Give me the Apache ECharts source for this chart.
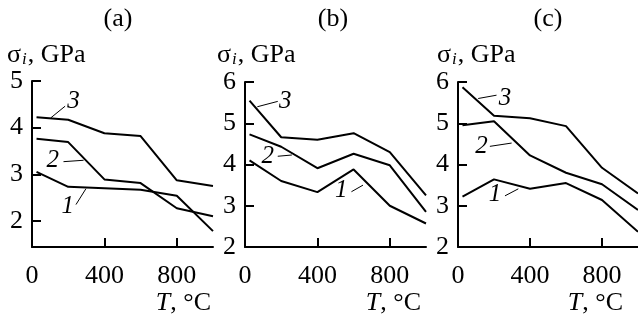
<!DOCTYPE html>
<html>
<head>
<meta charset="utf-8">
<script src="https://cdn.jsdelivr.net/npm/echarts@6/dist/echarts.min.js"></script>
<style>
  html, body { margin: 0; padding: 0; background: #fff; }
  #chart { width: 638px; height: 322px; }
</style>
</head>
<body>
<div id="chart"></div>
<script>
// temperatures, deg C
const temps = [25, 200, 400, 600, 800, 1000];

// stress intensity, GPa
const a1 = [3.05, 2.73, 2.70, 2.67, 2.54, 1.78];
const a2 = [3.76, 3.69, 2.89, 2.81, 2.27, 2.10];
const a3 = [4.22, 4.17, 3.88, 3.82, 2.87, 2.75];

const b1 = [4.10, 3.60, 3.33, 3.88, 3.00, 2.57];
const b2 = [4.73, 4.43, 3.91, 4.26, 3.98, 2.85];
const b3 = [5.55, 4.66, 4.60, 4.76, 4.30, 3.25];

const c1 = [3.22, 3.64, 3.41, 3.55, 3.14, 2.37];
const c2 = [4.95, 5.05, 4.22, 3.80, 3.52, 2.90];
const c3 = [5.87, 5.18, 5.12, 4.93, 3.92, 3.30];

// tick labels
const xTicks = [0, 400, 800];
const yTicksA = [2, 3, 4, 5];
const yTicksBC = [2, 3, 4, 5, 6];

// curve labels: [label point, leader start, leader end] in data units
const notesA = [
  ['3', [229, 4.56], [183, 4.46], [104, 4.21]],
  ['2', [115, 3.29], [174, 3.27], [285, 3.30]],
  ['1', [198, 2.31], [243, 2.35], [298, 2.69]]
];
const notesB = [
  ['3', [222, 5.52], [181, 5.53], [68, 5.40]],
  ['2', [126, 4.19], [181, 4.20], [259, 4.23]],
  ['1', [532, 3.38], [588, 3.34], [652, 3.50]]
];
const notesC = [
  ['3', [261, 5.61], [214, 5.68], [112, 5.60]],
  ['2', [131, 4.43], [177, 4.44], [298, 4.52]],
  ['1', [205, 3.27], [261, 3.24], [335, 3.41]]
];

const FONT = '"Liberation Serif", "Times New Roman", serif';
const FS = 26;

const chart = echarts.init(document.getElementById('chart'), null, { renderer: 'canvas' });

function zip(ys) {
  return temps.map((t, i) => [t, ys[i]]);
}

function xAxis(idx) {
  return {
    type: 'value', gridIndex: idx, min: 0, max: 1000,
    axisLine: { show: true, lineStyle: { color: '#000', width: 2 } },
    axisTick: { show: true, inside: true, length: 9, customValues: xTicks, lineStyle: { color: '#000', width: 2 } },
    axisLabel: { customValues: xTicks, margin: 16, color: '#000', fontFamily: FONT, fontSize: FS },
    splitLine: { show: false }
  };
}

function yAxis(idx, min, max, ticks) {
  return {
    type: 'value', gridIndex: idx, min: min, max: max,
    axisLine: { show: true, lineStyle: { color: '#000', width: 2 } },
    axisTick: { show: true, inside: true, length: 9, customValues: ticks, lineStyle: { color: '#000', width: 2 } },
    axisLabel: { customValues: ticks, margin: 9, color: '#000', fontFamily: FONT, fontSize: FS },
    splitLine: { show: false }
  };
}

function curve(idx, ys) {
  return {
    type: 'line', xAxisIndex: idx, yAxisIndex: idx, data: zip(ys),
    symbol: 'none', silent: true, animation: false,
    lineStyle: { color: '#000', width: 2 }
  };
}

function notes(idx, list) {
  const out = [];
  list.forEach(n => {
    out.push({
      type: 'line', xAxisIndex: idx, yAxisIndex: idx, data: [n[2], n[3]],
      symbol: 'none', silent: true, animation: false,
      lineStyle: { color: '#000', width: 1 }
    });
  });
  out.push({
    type: 'scatter', xAxisIndex: idx, yAxisIndex: idx, symbolSize: 0,
    silent: true, animation: false,
    itemStyle: { opacity: 1, color: '#000' },
    data: list.map(n => ({ value: n[1], name: n[0] })),
    label: {
      show: true, position: 'inside', formatter: '{b}', opacity: 1,
      color: '#000', fontFamily: FONT, fontSize: 25, fontStyle: 'italic'
    }
  });
  return out;
}

function sigmaName(x) {
  return {
    type: 'text', x: x, y: 55,
    style: {
      text: '{s|σ}{i|i}{s|, GPa}',
      verticalAlign: 'middle', align: 'left',
      rich: {
        s: { fontFamily: FONT, fontSize: FS, color: '#000', lineHeight: 28 },
        i: { fontFamily: FONT, fontSize: 17, fontStyle: 'italic', color: '#000', padding: [10, 1, 0, 1] }
      }
    }
  };
}

function tName(xRight) {
  return {
    type: 'text', x: xRight, y: 303,
    style: {
      text: '{t|T}{s|, °C}',
      verticalAlign: 'middle', align: 'right',
      rich: {
        s: { fontFamily: FONT, fontSize: FS, color: '#000' },
        t: { fontFamily: FONT, fontSize: FS, fontStyle: 'italic', color: '#000' }
      }
    }
  };
}

function panelTitle(text, x) {
  return {
    type: 'text', x: x, y: 19,
    style: { text: text, fontFamily: FONT, fontSize: FS, fill: '#000', align: 'center', verticalAlign: 'middle' }
  };
}

chart.setOption({
  backgroundColor: '#fff',
  animation: false,
  grid: [
    { left: 32, top: 81, width: 181, height: 166 },
    { left: 245, top: 82, width: 181, height: 165 },
    { left: 458, top: 82, width: 180, height: 165 }
  ],
  xAxis: [xAxis(0), xAxis(1), xAxis(2)],
  yAxis: [
    yAxis(0, 1.44, 5, yTicksA),
    yAxis(1, 2, 6, yTicksBC),
    yAxis(2, 2, 6, yTicksBC)
  ],
  series: [
    curve(0, a1), curve(0, a2), curve(0, a3),
    curve(1, b1), curve(1, b2), curve(1, b3),
    curve(2, c1), curve(2, c2), curve(2, c3),
    ...notes(0, notesA), ...notes(1, notesB), ...notes(2, notesC)
  ],
  graphic: [
    panelTitle('(a)', 118), panelTitle('(b)', 333), panelTitle('(c)', 548),
    sigmaName(7), sigmaName(217), sigmaName(437),
    tName(211), tName(421), tName(623)
  ]
});

window.addEventListener('resize', () => chart.resize());
</script>
</body>
</html>
